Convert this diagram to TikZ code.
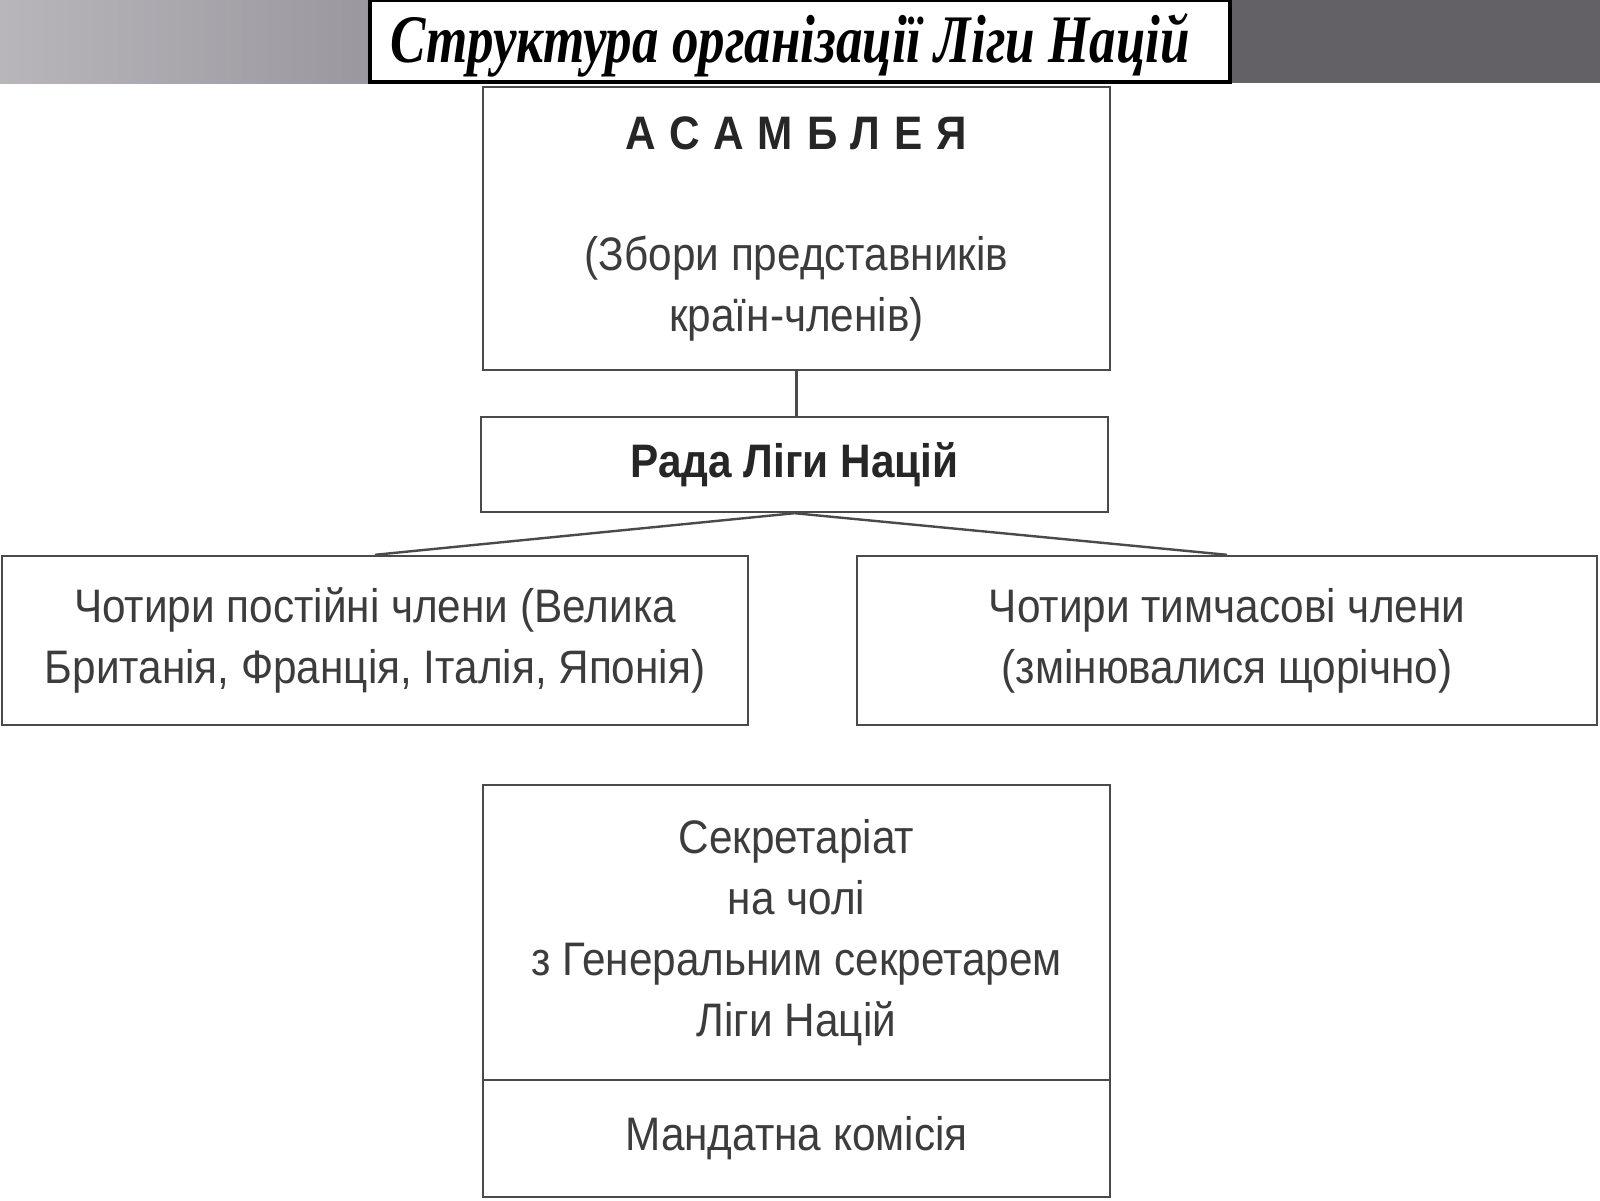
\documentclass[tikz,border=0pt]{standalone}
\usepackage{fontspec}
\setmainfont{Liberation Sans}[FakeStretch=0.9]
\newfontfamily\titlefont{Liberation Serif}[FakeStretch=0.78]
\definecolor{inkgray}{HTML}{3C3C3C}
\definecolor{framegray}{HTML}{4A4A4A}
\definecolor{bandlight}{HTML}{B8B6BB}
\definecolor{bandmid}{HTML}{9A989E}
\definecolor{banddark}{HTML}{646166}
\begin{document}
\begin{tikzpicture}[x=0.5pt,y=-0.5pt,
   box/.style={draw=framegray,line width=1.2pt,fill=white,align=center,
     text=inkgray,inner sep=0pt,font=\fontsize{23.5}{30.5}\selectfont},
   headbox/.style={draw=black,line width=1.6pt,fill=white,inner sep=0pt},
   headtext/.style={inner sep=0pt,
     font=\titlefont\bfseries\itshape\fontsize{34}{38}\selectfont},
   link/.style={draw=framegray,line width=1.2pt}]
   \useasboundingbox (0,0) rectangle (1600,1200);
   % grey band behind the title
   \shade[left color=bandlight,right color=bandmid] (0,0) rectangle (372,83);
   \fill[banddark] (1228,0) rectangle (1600,83);
   \node[headbox,minimum width=430pt,minimum height=41pt] (title) at (800,41) {};
   \node[headtext] (titletext) at (790,45) {Структура організації Ліги Націй};
   \node[box,minimum width=313.5pt,minimum height=141.5pt] (assembly) at (796.5,228.5)
      {{\bfseries\color{black!85}\addfontfeature{LetterSpace=30}АСАМБЛЕЯ}\\[30pt]
       (Збори представників\\країн-членів)};
   \node[box,minimum width=313.5pt,minimum height=47.5pt] (council) at (794.5,464.5)
      {\bfseries\color{black!85}Рада Ліги Націй};
   \node[box,minimum width=373pt,minimum height=84.5pt] (permanent) at (375,640.5)
      {Чотири постійні члени (Велика\\Британія, Франція, Італія, Японія)};
   \node[box,minimum width=370pt,minimum height=84.5pt] (temporary) at (1227,640.5)
      {Чотири тимчасові члени\\(змінювалися щорічно)};
   \node[box,minimum width=313.5pt,minimum height=147.5pt] (secretariat) at (796.5,932.5)
      {Секретаріат\\на чолі\\з Генеральним секретарем\\Ліги Націй};
   \node[box,minimum width=313.5pt,minimum height=58.5pt] (mandate) at (796.5,1138.5)
      {Мандатна комісія};
   \draw[link] (assembly.south) -- (assembly.south |- council.north);
   \draw[link] (council.south) -- (permanent.north);
   \draw[link] (council.south) -- (temporary.north);
\end{tikzpicture}
\end{document}
